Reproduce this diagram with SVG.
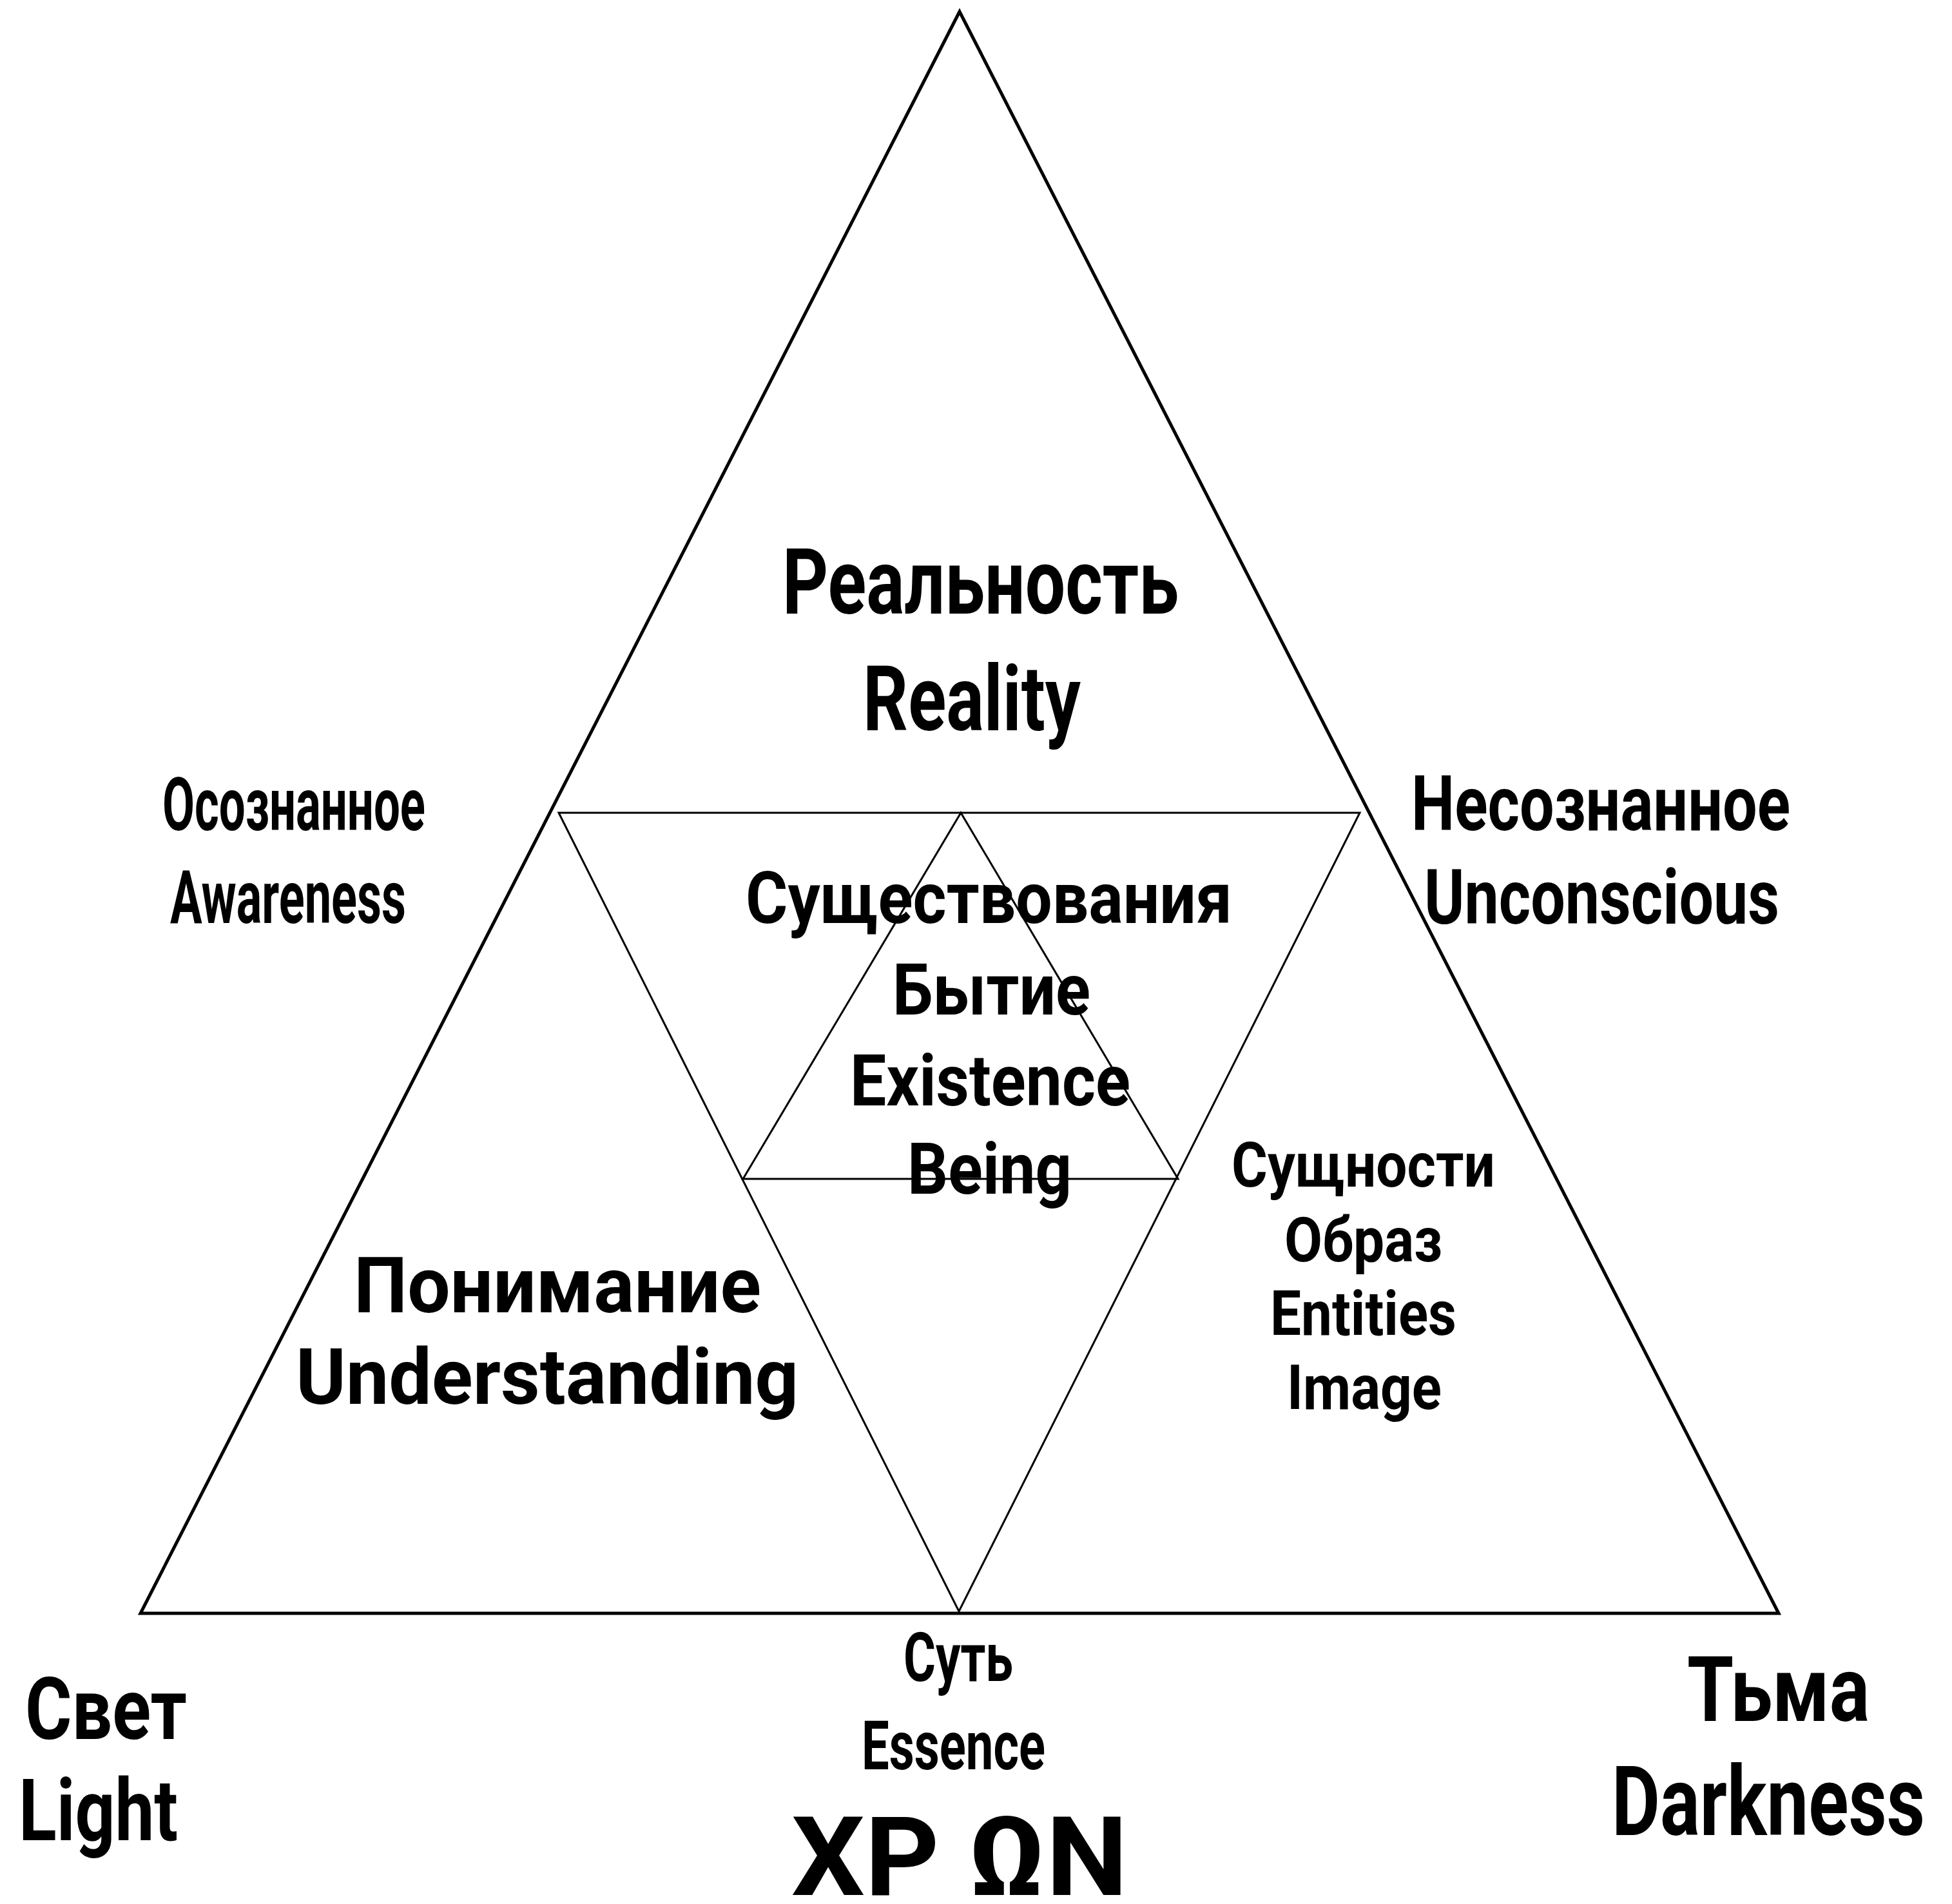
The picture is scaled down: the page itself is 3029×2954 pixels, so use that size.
<svg xmlns="http://www.w3.org/2000/svg" width="3029" height="2954" viewBox="0 0 3029 2954">
<style>
text{font-family:Roboto,"Liberation Sans",sans-serif;font-weight:700;fill:#000}
.outer{fill:none;stroke:#000;stroke-width:5;stroke-linejoin:miter}
.inner{fill:none;stroke:#000;stroke-width:3;stroke-linejoin:miter}
</style>
<rect width="3029" height="2954" fill="#fff"/>
<g id="connectors">
<polygon class="outer" points="1489,18 218,2503 2760,2503"/>
<polygon class="inner" points="867,1261 2110,1261 1488,2500"/>
<polygon class="inner" points="1491,1261 1153,1829 1828,1829"/>
</g>
<g id="reality">
<text x="1214" y="952" font-size="141" textLength="615" lengthAdjust="spacingAndGlyphs">Реальность</text>
<text x="1339" y="1133" font-size="141" textLength="338" lengthAdjust="spacingAndGlyphs">Reality</text>
</g>
<g id="awareness">
<text x="252" y="1288" font-size="115" textLength="408" lengthAdjust="spacingAndGlyphs">Осознанное</text>
<text x="264" y="1432" font-size="115" textLength="366" lengthAdjust="spacingAndGlyphs">Awareness</text>
</g>
<g id="unconscious">
<text x="2190" y="1288" font-size="118" textLength="588" lengthAdjust="spacingAndGlyphs">Несознанное</text>
<text x="2210" y="1433" font-size="118" textLength="551" lengthAdjust="spacingAndGlyphs">Unconscious</text>
</g>
<g id="existence">
<text x="1157" y="1432" font-size="112" textLength="755" lengthAdjust="spacingAndGlyphs">Существования</text>
<text x="1385" y="1574" font-size="112" textLength="307" lengthAdjust="spacingAndGlyphs">Бытие</text>
<text x="1319" y="1715" font-size="112" textLength="435" lengthAdjust="spacingAndGlyphs">Existence</text>
<text x="1408" y="1852" font-size="112" textLength="255" lengthAdjust="spacingAndGlyphs">Being</text>
</g>
<g id="entities">
<text x="1911" y="1841" font-size="96" textLength="409" lengthAdjust="spacingAndGlyphs">Сущности</text>
<text x="1993" y="1957" font-size="96" textLength="245" lengthAdjust="spacingAndGlyphs">Образ</text>
<text x="1971" y="2071" font-size="96" textLength="289" lengthAdjust="spacingAndGlyphs">Entities</text>
<text x="1997" y="2186" font-size="96" textLength="240" lengthAdjust="spacingAndGlyphs">Image</text>
</g>
<g id="understanding">
<text x="549" y="2036" font-size="120" textLength="632" lengthAdjust="spacingAndGlyphs">Понимание</text>
<text x="459" y="2178" font-size="120" textLength="780" lengthAdjust="spacingAndGlyphs">Understanding</text>
</g>
<g id="essence">
<text x="1402" y="2608" font-size="105" textLength="170" lengthAdjust="spacingAndGlyphs">Суть</text>
<text x="1337" y="2745" font-size="105" textLength="285" lengthAdjust="spacingAndGlyphs">Essence</text>
</g>
<g id="light">
<text x="39" y="2698" font-size="134" textLength="251" lengthAdjust="spacingAndGlyphs">Свет</text>
<text x="29" y="2855" font-size="134" textLength="247" lengthAdjust="spacingAndGlyphs">Light</text>
</g>
<g id="darkness">
<text x="2618" y="2670" font-size="141" textLength="283" lengthAdjust="spacingAndGlyphs">Тьма</text>
<text x="2501" y="2847" font-size="150" textLength="486" lengthAdjust="spacingAndGlyphs">Darkness</text>
</g>
<g id="chronos">
<text x="1228" y="2940" font-size="170" textLength="522" lengthAdjust="spacingAndGlyphs">XP ΩN</text>
</g>
</svg>
